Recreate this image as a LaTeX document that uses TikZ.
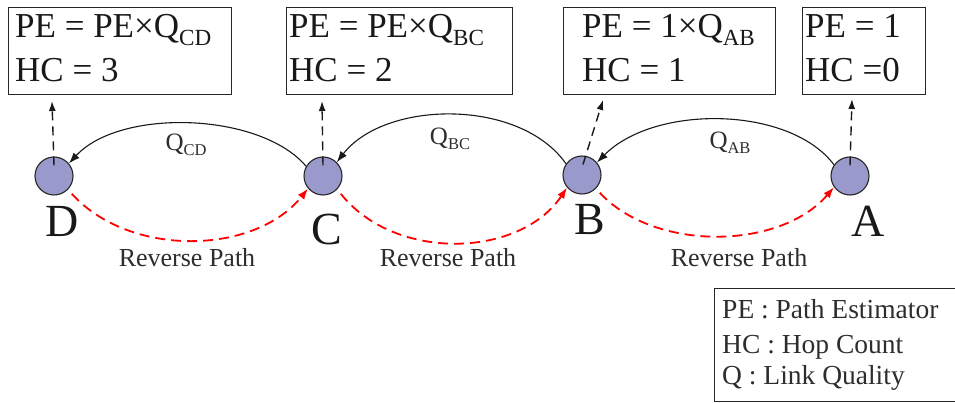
\documentclass[tikz,border=0pt]{standalone}
\usepackage{fontspec}
\usepackage{graphicx}
\setmainfont{Liberation Serif}
\usetikzlibrary{arrows.meta}
\newcommand{\lowsub}[1]{\raisebox{-0.22em}{\scalebox{0.66}{#1}}}
\definecolor{nodeblue}{RGB}{153,153,204}
\definecolor{txtgray}{RGB}{45,45,45}
\begin{document}
\begin{tikzpicture}[x=1pt,y=-1pt,
  nd/.style={circle,minimum size=38pt,inner sep=0pt,fill=nodeblue,draw=black!85,line width=1.1pt},
  infobox/.style={draw=black!85,line width=1.3pt,inner sep=0pt,anchor=north west},
  boxtxt/.style={anchor=base west,inner sep=0pt,font=\fontsize{35}{40}\selectfont,text=black!90},
  letter/.style={inner sep=0pt,font=\fontsize{46}{50}\selectfont,text=black!90},
  revtxt/.style={inner sep=0pt,font=\fontsize{26}{30}\selectfont,text=txtgray},
  qtxt/.style={inner sep=0pt,font=\fontsize{25}{30}\selectfont,text=txtgray},
  legtxt/.style={anchor=base west,inner sep=0pt,font=\fontsize{27.5}{30}\selectfont,text=txtgray},
  qarrow/.style={draw=black!90,line width=1.1pt,-{Latex[length=11pt,width=8pt]}},
  uparrow/.style={draw=black!90,line width=1.4pt,dash pattern=on 9pt off 6pt,-{Latex[length=10pt,width=7pt]}},
  revarrow/.style={draw=red,line width=1.8pt,dash pattern=on 10pt off 6pt,-{Latex[length=11pt,width=8pt]}}
]
\useasboundingbox (0,0) rectangle (955,403);

% info boxes
\node[infobox,minimum width=223pt,minimum height=87pt] (bD) at (8,7) {};
\node[infobox,minimum width=226pt,minimum height=87pt] (bC) at (286,7) {};
\node[infobox,minimum width=212pt,minimum height=87pt] (bB) at (563,7) {};
\node[infobox,minimum width=123pt,minimum height=87pt] (bA) at (802,7) {};

\node[boxtxt] (tD1) at (15,38) {PE = PE×Q\lowsub{CD}};
\node[boxtxt] (tD2) at (15,82) {HC = 3};
\node[boxtxt] (tC1) at (289,38) {PE = PE×Q\lowsub{BC}};
\node[boxtxt] (tC2) at (289,82) {HC = 2};
\node[boxtxt] (tB1) at (582,38) {PE = 1×Q\lowsub{AB}};
\node[boxtxt] (tB2) at (582,82) {HC = 1};
\node[boxtxt] (tA1) at (805,38) {PE = 1};
\node[boxtxt] (tA2) at (805,82) {HC =0};

% nodes
\node[nd] (D) at (54,176) {};
\node[nd] (C) at (323,176) {};
\node[nd] (B) at (582,175) {};
\node[nd] (A) at (850,176) {};

\node[letter] (lD) at (62,221) {D};
\node[letter] (lC) at (327,229) {C};
\node[letter] (lB) at (590,220) {B};
\node[letter] (lA) at (868,221) {A};

% up arrows to boxes
\coordinate (eD) at (52,101);
\coordinate (eC) at (322,101);
\coordinate (eB) at (603,100);
\coordinate (eA) at (852,99);
\draw[uparrow] ([yshift=-9pt]D.north) -- (eD);
\draw[uparrow] ([yshift=-9pt]C.north) -- (eC);
\draw[uparrow] ([xshift=1pt,yshift=-9pt]B.north) -- (eB);
\draw[uparrow] ([yshift=-9pt]A.north) -- (eA);

% Q arrows
\draw[qarrow] (C.150) .. controls (260,112) and (120,108) .. (D.40);
\draw[qarrow] (B.145) .. controls (520,98) and (385,100) .. (C.45);
\draw[qarrow] (A.145) .. controls (790,106) and (655,104) .. (B.40);
\node[qtxt] (qCD) at (186,145) {Q\lowsub{CD}};
\node[qtxt] (qBC) at (450,139) {Q\lowsub{BC}};
\node[qtxt] (qAB) at (730,143) {Q\lowsub{AB}};

% reverse paths
\draw[revarrow] ([shift={(4pt,-4pt)}]D.-45) .. controls (130,258) and (255,255) .. (C.-140);
\draw[revarrow] ([shift={(4pt,-4pt)}]C.-45) .. controls (395,262) and (520,258) .. (B.-140);
\draw[revarrow] ([shift={(4pt,-4pt)}]B.-45) .. controls (655,252) and (780,250) .. (A.-145);
\node[revtxt] (r1) at (187,258) {Reverse Path};
\node[revtxt] (r2) at (448,258) {Reverse Path};
\node[revtxt] (r3) at (739,258) {Reverse Path};

% legend (right side runs off the picture)
\node[infobox,minimum width=260pt,minimum height=113pt] (leg) at (714,288) {};
\node[legtxt] (l1) at (722,318) {PE : Path Estimator};
\node[legtxt] (l2) at (722,353) {HC : Hop Count};
\node[legtxt] (l3) at (722,384) {Q : Link Quality};
\end{tikzpicture}
\end{document}
